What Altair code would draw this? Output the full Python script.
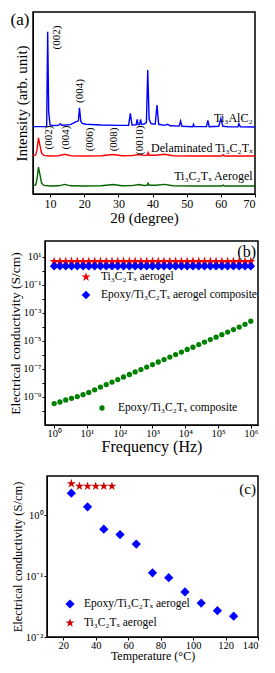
import altair as alt
import pandas as pd

FONT = "Liberation Serif"
STAR = "M0,-1L0.2245,-0.309L0.951,-0.309L0.363,0.118L0.588,0.809L0,0.382L-0.588,0.809L-0.363,0.118L-0.951,-0.309L-0.2245,-0.309Z"

# ---------------- Panel (a): XRD patterns ----------------
blue_x = [5, 8.0, 9.0, 9.3, 9.6, 10.0, 11.0, 12.5, 13.0, 13.5, 16.0, 17.5, 18.3, 18.6, 19.0, 19.4, 20.5,
          25, 30, 33.0, 33.5, 34.0, 35.2, 35.5, 35.8, 36.2, 36.5, 36.8, 37.5, 38.2, 38.6, 39.0, 39.6,
          40.8, 41.3, 41.8, 43.5, 44.4, 45.2, 47.8, 48.2, 48.6, 51.8, 52.0, 52.3, 55.8, 56.2, 56.6,
          59.4, 60.0, 60.6, 62.5, 65.0, 65.3, 65.7, 70]
blue_y = [37.0, 37.0, 37.1, 89.2, 45.0, 38.0, 37.6, 37.7, 38.6, 37.8, 38.1, 39.6, 40.2, 47.4, 40.0, 38.8, 38.3,
          37.9, 37.7, 37.8, 44.3, 37.9, 38.0, 41.0, 38.1, 38.1, 41.0, 38.3, 38.4, 39.2, 68.1, 41.0, 38.6,
          38.4, 48.9, 38.3, 37.7, 38.3, 37.5, 37.3, 40.1, 37.2, 37.0, 38.3, 37.0, 37.0, 40.5, 37.0,
          37.2, 41.4, 37.2, 36.9, 36.9, 38.6, 36.9, 36.8]

red_x = [5, 5.8, 6.2, 6.6, 7.0, 7.5, 8.2, 10, 12.5, 14.3, 16, 20, 25, 28.5, 31, 34, 36, 37.5, 38.4, 38.7,
         39.0, 41, 43.5, 46, 52, 60.3, 60.7, 61.1, 70]
red_y = [21.0, 21.4, 24.5, 30.9, 27.0, 22.5, 21.2, 20.9, 21.0, 21.8, 21.0, 20.9, 21.0, 21.7, 21.0, 21.1,
         21.7, 21.2, 21.3, 22.7, 21.3, 21.3, 21.8, 21.0, 20.9, 20.9, 21.6, 20.9, 20.9]
green_x = [5, 5.8, 6.2, 6.6, 7.0, 7.5, 8.2, 10, 12.5, 14.3, 16, 20, 25, 28.5, 31, 34, 36, 37.5, 38.4, 38.7,
           39.0, 41, 43.5, 46, 52, 60.3, 60.7, 61.1, 70]
green_y = [4.6, 5.0, 8.5, 14.8, 11.0, 6.0, 4.7, 4.4, 4.5, 5.3, 4.5, 4.4, 4.5, 5.2, 4.5, 4.6,
           5.2, 4.7, 4.8, 6.0, 4.8, 4.8, 5.3, 4.5, 4.4, 4.4, 4.9, 4.4, 4.4]

peak_labels = ["(002)", "(004)", "(002)", "(004)", "(006)", "(008)", "(0010)"]
peak_x = [12.0, 18.9, 9.6, 14.7, 21.7, 28.7, 36.2]
peak_y = [86.0, 56.6, 31.0, 31.0, 30.0, 30.0, 29.5]

curve_names = ["Ti₃AlC₂", "Delaminated Ti₃C₂Tₓ", "Ti₃C₂Tₓ Aerogel"]
curve_label_x = [69.3, 69.3, 69.3]
curve_label_y = [41.9, 25.4, 9.9]

# ---------------- Panel (b): conductivity vs frequency ----------------
freq = [1.0, 1.5, 2.25, 3.38, 5.08, 7.62, 11.4, 17.2, 25.8, 38.7, 58.2, 87.3, 131, 197, 296, 444, 667,
        1000, 1502, 2254, 3384, 5081, 7627, 11450, 17190, 25810, 38750, 58170, 87330, 131100, 196800,
        295500, 443600, 666000, 1000000]
sigma_aerogel = [4.5, 4.5, 4.5, 4.5, 4.5, 4.5, 4.5, 4.5, 4.5, 4.5, 4.5, 4.5, 4.5, 4.5, 4.5, 4.5, 4.5,
                 4.5, 4.5, 4.5, 4.5, 4.5, 4.5, 4.5, 4.5, 4.5, 4.5, 4.5, 4.5, 4.5, 4.5, 4.5, 4.5, 4.5, 4.5]
sigma_aerogel_comp = [2.1, 2.1, 2.1, 2.1, 2.1, 2.1, 2.1, 2.1, 2.1, 2.1, 2.1, 2.1, 2.1, 2.1, 2.1, 2.1, 2.1,
                      2.1, 2.1, 2.1, 2.1, 2.1, 2.1, 2.1, 2.1, 2.1, 2.1, 2.1, 2.1, 2.1, 2.1, 2.1, 2.1, 2.1, 2.1]
sigma_comp = [3.39e-10, 4.37e-10, 6.03e-10, 7.94e-10, 1.07e-9, 1.45e-9, 2.09e-9, 3.24e-9, 5.01e-9,
              7.59e-9, 1.15e-8, 1.74e-8, 2.63e-8, 3.98e-8, 6.03e-8, 8.91e-8, 1.35e-7, 2.04e-7, 3.09e-7,
              4.57e-7, 6.92e-7, 1.05e-6, 1.58e-6, 2.40e-6, 3.55e-6, 5.37e-6, 8.13e-6, 1.23e-5, 1.82e-5,
              2.75e-5, 4.17e-5, 6.31e-5, 9.55e-5, 1.51e-4, 2.51e-4]

# ---------------- Panel (c): conductivity vs temperature ----------------
temp_comp = [25, 35, 45, 55, 65, 75, 85, 95, 105, 115, 125]
sigma_temp_comp = [2.3, 1.37, 0.59, 0.48, 0.335, 0.113, 0.094, 0.055, 0.036, 0.027, 0.022]
temp_aerogel = [25, 30, 35, 40, 45, 50]
sigma_temp_aerogel = [3.3, 3.0, 3.0, 3.0, 3.0, 3.0]

SUP = "['⁰','¹','²','³','⁴','⁵','⁶','⁷','⁸','⁹']"
E = "round(log(datum.value)/LN10)"
LAB = f"'10' + ({E} < 0 ? '⁻' : '') + {SUP}[abs({E})]"
LAB_ODD = f"({E}) % 2 == 0 ? '' : {LAB}"


def txt(label, x, y, size, align="left", color="black", angle=0):
    return alt.Chart(pd.DataFrame({"t": [label]})).mark_text(
        font=FONT, fontSize=size, align=align, baseline="middle", color=color, angle=angle
    ).encode(x=alt.value(x), y=alt.value(y), text="t:N")


def sym(shape, x, y, size, color):
    return alt.Chart(pd.DataFrame({"t": [0]})).mark_point(
        shape=shape, filled=True, size=size, color=color, opacity=1
    ).encode(x=alt.value(x), y=alt.value(y))


def spacer(w, h):
    return alt.Chart(pd.DataFrame({"t": [""]})).mark_text(fontSize=1).encode(
        x=alt.value(1), y=alt.value(1), text="t:N"
    ).properties(width=w, height=h, view=alt.ViewBackground(strokeOpacity=0, strokeWidth=0))


# ----- (a) -----
xa = alt.X("x:Q", scale=alt.Scale(domain=[5, 70], nice=False),
           axis=alt.Axis(values=[10, 20, 30, 40, 50, 60, 70], title="2θ (degree)",
                         labelFontSize=12, titleFontSize=15, titlePadding=1, labelPadding=1))
ya = alt.Y("y:Q", scale=alt.Scale(domain=[0, 100], nice=False),
           axis=alt.Axis(labels=False, ticks=False, title="Intensity (arb. unit)",
                         titleFontSize=15, titlePadding=4, minExtent=0))


def line(xs, ys, color):
    return alt.Chart(pd.DataFrame({"x": xs, "y": ys})).mark_line(
        color=color, strokeWidth=1.4).encode(x=xa, y=ya)


a_peaks = alt.Chart(pd.DataFrame({"x": peak_x, "y": peak_y, "t": peak_labels})).mark_text(
    font=FONT, fontSize=11, angle=270, align="center", baseline="middle").encode(x=xa, y=ya, text="t:N")
a_names = alt.Chart(pd.DataFrame({"x": curve_label_x, "y": curve_label_y, "t": curve_names})).mark_text(
    font=FONT, fontSize=12, align="right", baseline="middle").encode(x=xa, y=ya, text="t:N")

panel_a = alt.layer(
    line(blue_x, blue_y, "#0000FF"),
    line(red_x, red_y, "#FF0000"),
    line(green_x, green_y, "#006400"),
    a_peaks, a_names,
    txt("(a)", -13, 8, 17, align="center"),
).properties(width=222, height=182)

# ----- (b) -----
df_b = pd.DataFrame({"f": freq, "s1": sigma_aerogel, "s2": sigma_aerogel_comp, "s3": sigma_comp})
xb = alt.X("f:Q", scale=alt.Scale(type="log", domain=[0.525, 1660000], nice=False),
           axis=alt.Axis(values=[1, 10, 100, 1000, 10000, 100000, 1000000], labelExpr=LAB,
                         title="Frequency (Hz)", labelFontSize=10.5, titleFontSize=16,
                         titlePadding=0, labelPadding=0))
y_axis_b = alt.Axis(values=[1e-10, 1e-9, 1e-8, 1e-7, 1e-6, 1e-5, 1e-4, 1e-3, 1e-2, 1e-1, 1, 10],
                    labelExpr=LAB_ODD, title="Electrical conductivity (S/cm)",
                    labelFontSize=10.5, titleFontSize=13.5, titlePadding=0, labelPadding=1, minExtent=0)
ysc_b = alt.Scale(type="log", domain=[1e-11, 130], nice=False)

b_redline = alt.Chart(df_b).mark_line(color="#EE0000", strokeWidth=1.5).encode(
    x=xb, y=alt.Y("s1:Q", scale=ysc_b, axis=y_axis_b))
b_red = alt.Chart(df_b).mark_point(shape=STAR, filled=True, size=95, color="#EE0000", opacity=1).encode(
    x=xb, y=alt.Y("s1:Q", scale=ysc_b, axis=y_axis_b))
b_blue = alt.Chart(df_b).mark_point(shape="diamond", filled=True, size=75, color="#0000FF", opacity=1).encode(
    x=xb, y=alt.Y("s2:Q", scale=ysc_b, axis=y_axis_b))
b_green = alt.Chart(df_b).mark_point(shape="circle", filled=True, size=28, color="#008000", opacity=1).encode(
    x=xb, y=alt.Y("s3:Q", scale=ysc_b, axis=y_axis_b))

panel_b = alt.layer(
    b_redline, b_red, b_blue, b_green,
    sym(STAR, 41, 36, 95, "#EE0000"), txt("Ti₃C₂Tₓ aerogel", 56, 36, 11.5),
    sym("diamond", 41, 54, 75, "#0000FF"), txt("Epoxy/Ti₃C₂Tₓ aerogel composite", 56, 54, 11.5),
    sym("circle", 57, 167, 28, "#008000"), txt("Epoxy/Ti₃C₂Tₓ composite", 73, 167, 11.5),
    txt("(b)", 211, 11, 16, align="right"),
).properties(width=213, height=184)

# ----- (c) -----
xc = alt.X("t:Q", scale=alt.Scale(domain=[10, 140], nice=False),
           axis=alt.Axis(values=[20, 40, 60, 80, 100, 120, 140], title="Temperature (°C)",
                         labelFontSize=10.5, titleFontSize=12, titlePadding=0, labelPadding=0))
ysc_c = alt.Scale(type="log", domain=[0.01, 4.4], nice=False)
y_axis_c = alt.Axis(values=[0.01, 0.1, 1], labelExpr=LAB, title="Electrical conductivity (S/cm)",
                    labelFontSize=10.5, titleFontSize=12.5, titlePadding=1, labelPadding=1, minExtent=0)

c_blue = alt.Chart(pd.DataFrame({"t": temp_comp, "s": sigma_temp_comp})).mark_point(
    shape="diamond", filled=True, size=85, color="#0000FF", opacity=1).encode(
    x=xc, y=alt.Y("s:Q", scale=ysc_c, axis=y_axis_c))
c_red = alt.Chart(pd.DataFrame({"t": temp_aerogel, "s": sigma_temp_aerogel})).mark_point(
    shape=STAR, filled=True, size=90, color="#CC0000", opacity=1).encode(
    x=xc, y=alt.Y("s:Q", scale=ysc_c, axis=y_axis_c))

panel_c = alt.layer(
    c_blue, c_red,
    sym("diamond", 23, 128, 85, "#0000FF"), txt("Epoxy/Ti₃C₂Tₓ aerogel", 37, 128, 11.5),
    sym(STAR, 23, 147, 90, "#CC0000"), txt("Ti₃C₂Tₓ aerogel", 37, 147, 11.5),
    txt("(c)", 209, 13, 15, align="right"),
).properties(width=211, height=161)

row_b = alt.HConcatChart(hconcat=[spacer(12, 20), panel_b], spacing=0, bounds="flush")
row_c = alt.HConcatChart(hconcat=[spacer(14, 20), panel_c], spacing=0, bounds="flush")

lower = alt.VConcatChart(vconcat=[row_b, row_c], spacing=19)
chart = alt.VConcatChart(vconcat=[panel_a, lower], spacing=14).properties(
    padding={"top": 2, "left": 0, "right": 0, "bottom": 0}
).configure_view(stroke="black", strokeWidth=1.5).configure_axis(
    grid=False, labelFont=FONT, titleFont=FONT, titleFontWeight="normal",
    labelColor="black", titleColor="black", tickColor="black", domainColor="black",
    tickSize=3, minExtent=0
)

chart.save("out.html", embed_options={"renderer": "svg", "actions": False})
